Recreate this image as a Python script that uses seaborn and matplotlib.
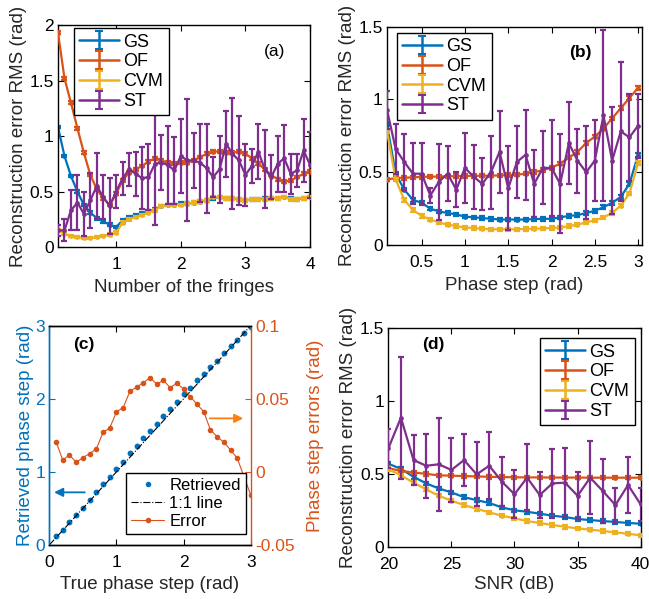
import numpy as np
import matplotlib
matplotlib.use("Agg")
import matplotlib.pyplot as plt
import seaborn as sns
from matplotlib.lines import Line2D

sns.set_theme(style="ticks")
plt.rcParams['font.family'] = ['Liberation Sans', 'DejaVu Sans']
plt.rcParams.update({
    'xtick.direction': 'in', 'ytick.direction': 'in',
    'xtick.top': True, 'ytick.right': True,
    'xtick.bottom': True, 'ytick.left': True,
    'xtick.major.size': 4, 'ytick.major.size': 4,
    'xtick.major.width': 0.8, 'ytick.major.width': 0.8,
    'axes.edgecolor': 'black', 'axes.linewidth': 1.0,
    'xtick.labelsize': 12.5, 'ytick.labelsize': 12.5, 'axes.labelsize': 13.5,
    'xtick.color': 'black', 'ytick.color': 'black',
    'axes.labelcolor': '#262626', 'text.color': 'black',
    'xtick.major.pad': 7.5, 'ytick.major.pad': 3,
    'axes.labelpad': 4,
})

C_GS = '#0072BD'
C_OF = '#D95319'
C_CVM = '#EDB120'
C_ST = '#7E2F8E'

methods = ['GS', 'OF', 'CVM', 'ST']

# ---------------- Panel (a): number of fringes ----------------
fringes = [0.1, 0.2, 0.3, 0.4, 0.5, 0.6, 0.7, 0.8, 0.9, 1.0,
           1.1, 1.2, 1.3, 1.4, 1.5, 1.6, 1.7, 1.8, 1.9, 2.0,
           2.1, 2.2, 2.3, 2.4, 2.5, 2.6, 2.7, 2.8, 2.9, 3.0,
           3.1, 3.2, 3.3, 3.4, 3.5, 3.6, 3.7, 3.8, 3.9, 4.0]
gs_a = [1.08, 0.82, 0.64, 0.50, 0.38, 0.31, 0.26, 0.23, 0.20, 0.18,
        0.24, 0.27, 0.29, 0.30, 0.32, 0.34, 0.37, 0.38, 0.38, 0.39,
        0.39, 0.40, 0.41, 0.42, 0.44, 0.45, 0.44, 0.44, 0.43, 0.42,
        0.43, 0.43, 0.44, 0.44, 0.44, 0.45, 0.44, 0.43, 0.44, 0.45]
of_a = [1.93, 1.52, 1.30, 1.07, 0.85, 0.65, 0.52, 0.44, 0.38, 0.48,
        0.60, 0.67, 0.70, 0.73, 0.77, 0.80, 0.78, 0.76, 0.75, 0.76,
        0.76, 0.78, 0.81, 0.84, 0.86, 0.86, 0.85, 0.85, 0.86, 0.84,
        0.80, 0.75, 0.70, 0.65, 0.61, 0.59, 0.60, 0.63, 0.66, 0.68]
cvm_a = [0.15, 0.12, 0.10, 0.09, 0.08, 0.08, 0.09, 0.10, 0.11, 0.13,
         0.22, 0.25, 0.27, 0.29, 0.31, 0.33, 0.37, 0.38, 0.38, 0.38,
         0.39, 0.40, 0.41, 0.42, 0.45, 0.45, 0.44, 0.44, 0.43, 0.42,
         0.43, 0.43, 0.43, 0.44, 0.44, 0.45, 0.43, 0.43, 0.44, 0.45]
st_a = [0.15, 0.15, 0.33, 0.40, 0.30, 0.42, 0.55, 0.45, 0.37, 0.50,
        0.62, 0.70, 0.66, 0.62, 0.63, 0.75, 0.76, 0.74, 0.69, 0.82,
        0.78, 0.78, 0.76, 0.71, 0.63, 0.70, 0.93, 0.84, 0.78, 0.65,
        0.73, 0.86, 0.70, 0.63, 0.75, 0.80, 0.66, 0.69, 0.87, 0.74]
st_a_err = [0.05, 0.10, 0.18, 0.25, 0.20, 0.25, 0.30, 0.20, 0.25, 0.15,
            0.15, 0.15, 0.20, 0.28, 0.30, 0.55, 0.25, 0.35, 0.30, 0.33,
            0.55, 0.25, 0.35, 0.40, 0.18, 0.30, 0.30, 0.50, 0.40, 0.28,
            0.15, 0.25, 0.35, 0.20, 0.25, 0.30, 0.18, 0.15, 0.28, 0.30]

# ---------------- Panel (b): phase step ----------------
phase = [0.1, 0.2, 0.3, 0.4, 0.5, 0.6, 0.7, 0.8, 0.9, 1.0,
         1.1, 1.2, 1.3, 1.4, 1.5, 1.6, 1.7, 1.8, 1.9, 2.0,
         2.1, 2.2, 2.3, 2.4, 2.5, 2.6, 2.7, 2.8, 2.9, 3.0]
gs_b = [0.83, 0.49, 0.38, 0.31, 0.29, 0.25, 0.23, 0.22, 0.21, 0.195,
        0.19, 0.185, 0.18, 0.175, 0.175, 0.175, 0.175, 0.178, 0.18, 0.18,
        0.19, 0.20, 0.205, 0.22, 0.235, 0.26, 0.29, 0.33, 0.42, 0.62]
of_b = [0.45, 0.46, 0.462, 0.465, 0.468, 0.47, 0.47, 0.472, 0.473, 0.475,
        0.475, 0.476, 0.477, 0.478, 0.48, 0.483, 0.49, 0.50, 0.515, 0.53,
        0.56, 0.60, 0.64, 0.70, 0.745, 0.80, 0.87, 0.94, 1.01, 1.08]
cvm_b = [0.78, 0.45, 0.31, 0.24, 0.20, 0.175, 0.155, 0.14, 0.13, 0.12,
         0.117, 0.112, 0.108, 0.108, 0.108, 0.108, 0.11, 0.112, 0.114, 0.117,
         0.12, 0.13, 0.14, 0.155, 0.17, 0.19, 0.22, 0.27, 0.355, 0.565]
st_b = [0.93, 0.66, 0.57, 0.49, 0.49, 0.34, 0.435, 0.49, 0.38, 0.53,
        0.47, 0.42, 0.50, 0.64, 0.39, 0.57, 0.62, 0.42, 0.53, 0.53,
        0.42, 0.70, 0.58, 0.50, 0.58, 0.89, 0.58, 0.78, 0.74, 0.82]
st_b_err = [0.13, 0.17, 0.19, 0.21, 0.21, 0.05, 0.26, 0.19, 0.12, 0.24,
            0.22, 0.18, 0.25, 0.28, 0.29, 0.25, 0.31, 0.23, 0.25, 0.33,
            0.34, 0.28, 0.22, 0.32, 0.28, 0.59, 0.37, 0.48, 0.30, 0.22]

# ---------------- Panel (c): retrieved phase step ----------------
true_step = [0.1, 0.2, 0.3, 0.4, 0.5, 0.6, 0.7, 0.8, 0.9, 1.0,
             1.1, 1.2, 1.3, 1.4, 1.5, 1.6, 1.7, 1.8, 1.9, 2.0,
             2.1, 2.2, 2.3, 2.4, 2.5, 2.6, 2.7, 2.8, 2.9, 3.0]
retrieved = [0.12, 0.21, 0.31, 0.41, 0.51, 0.61, 0.72, 0.83, 0.93, 1.04,
             1.14, 1.26, 1.36, 1.46, 1.56, 1.66, 1.76, 1.86, 1.96, 2.06,
             2.15, 2.25, 2.34, 2.43, 2.52, 2.62, 2.72, 2.81, 2.90, 2.98]
step_error = [0.0207, 0.0081, 0.0116, 0.0065, 0.0097, 0.0125, 0.0157, 0.027, 0.030, 0.041,
              0.044, 0.055, 0.058, 0.061, 0.0645, 0.060, 0.0626, 0.0576, 0.0606, 0.0567,
              0.0515, 0.0462, 0.0412, 0.0287, 0.0241, 0.0202, 0.015, 0.0093, -0.0033, -0.0158]
line_x = [0, 3]
line_y = [0, 3]

# ---------------- Panel (d): SNR ----------------
snr = [20, 21, 22, 23, 24, 25, 26, 27, 28, 29, 30,
       31, 32, 33, 34, 35, 36, 37, 38, 39, 40]
gs_d = [0.57, 0.535, 0.48, 0.435, 0.40, 0.373, 0.34, 0.32, 0.30, 0.27, 0.25,
        0.24, 0.227, 0.213, 0.204, 0.19, 0.183, 0.176, 0.17, 0.163, 0.158]
of_d = [0.54, 0.52, 0.51, 0.50, 0.49, 0.488, 0.485, 0.483, 0.48, 0.478, 0.477,
        0.476, 0.476, 0.475, 0.475, 0.475, 0.474, 0.474, 0.474, 0.474, 0.474]
cvm_d = [0.533, 0.49, 0.44, 0.394, 0.35, 0.316, 0.286, 0.26, 0.236, 0.213, 0.195,
         0.176, 0.163, 0.149, 0.137, 0.126, 0.117, 0.108, 0.098, 0.089, 0.078]
st_d = [0.675, 0.886, 0.595, 0.556, 0.566, 0.527, 0.595, 0.497, 0.556, 0.447, 0.36,
        0.474, 0.355, 0.435, 0.44, 0.35, 0.474, 0.382, 0.286, 0.424, 0.29]
st_d_err = [0.135, 0.42, 0.17, 0.22, 0.32, 0.22, 0.18, 0.22, 0.23, 0.17, 0.165,
            0.23, 0.16, 0.235, 0.235, 0.16, 0.25, 0.22, 0.12, 0.19, 0.115]

small_err = 0.012  # tiny error bars of GS/OF/CVM

fig = plt.figure(figsize=(6.49, 5.99), dpi=100)
ax_a = fig.add_axes([0.0894, 0.5876, 0.3883, 0.3706])
ax_b = fig.add_axes([0.5963, 0.5910, 0.3929, 0.3644])
ax_c = fig.add_axes([0.0760, 0.0902, 0.3103, 0.3661])
ax_d = fig.add_axes([0.5983, 0.0873, 0.3889, 0.3646])


def draw(ax, x, y, err, color, lw=1.6, ms=3.4, z=2):
    sns.lineplot(x=x, y=y, ax=ax, color=color, linewidth=lw, marker='o',
                 markersize=ms, markeredgewidth=0, legend=False, zorder=z,
                 errorbar=None)
    ax.errorbar(x, y, yerr=err, fmt='none', ecolor=color, elinewidth=lw,
                capsize=2.5, capthick=lw, zorder=z)


def eb_legend(ax, loc, anchor):
    handles = []
    for name, col in zip(methods, [C_GS, C_OF, C_CVM, C_ST]):
        h = ax.errorbar([np.nan], [np.nan], yerr=[np.nan], color=col, lw=1.8,
                        capsize=3, capthick=1.5, label=name)
        handles.append(h)
    leg = ax.legend(handles=handles, loc=loc, bbox_to_anchor=anchor,
                    borderaxespad=0, fancybox=False, edgecolor='black',
                    framealpha=1, fontsize=13, handlelength=2.2,
                    labelspacing=0.15, handletextpad=0.25, borderpad=0.3)
    leg.get_frame().set_linewidth(1.0)


def errpanel(ax, x, gs, of, cvm, st, st_err):
    draw(ax, x, gs, small_err, C_GS, z=2)
    draw(ax, x, of, small_err, C_OF, z=3)
    draw(ax, x, cvm, small_err, C_CVM, z=4)
    draw(ax, x, st, st_err, C_ST, z=5)
    ax.set_ylabel('Reconstruction error RMS (rad)', labelpad=2)


# (a)
errpanel(ax_a, fringes, gs_a, of_a, cvm_a, st_a, st_a_err)
ax_a.set_xlim(0.1, 4)
ax_a.set_ylim(0, 2)
ax_a.set_xticks([1, 2, 3, 4])
ax_a.set_xticklabels(['1', '2', '3', '4'])
ax_a.set_yticks([0, 0.5, 1, 1.5, 2])
ax_a.set_yticklabels(['0', '0.5', '1', '1.5', '2'])
ax_a.set_xlabel('Number of the fringes', labelpad=5)
ax_a.text(3.45, 1.76, '(a)', fontsize=12.5, ha='center', va='center')
eb_legend(ax_a, 'upper left', (0.063, 0.985))

# (b)
errpanel(ax_b, phase, gs_b, of_b, cvm_b, st_b, st_b_err)
ax_b.set_xlim(0.1, 3.045)
ax_b.set_ylim(0, 1.5)
ax_b.set_xticks([0.5, 1, 1.5, 2, 2.5, 3])
ax_b.set_xticklabels(['0.5', '1', '1.5', '2', '2.5', '3'])
ax_b.set_yticks([0, 0.5, 1, 1.5])
ax_b.set_yticklabels(['0', '0.5', '1', '1.5'])
ax_b.set_xlabel('Phase step (rad)', labelpad=5)
ax_b.text(2.33, 1.32, '(b)', fontsize=12.5, fontweight='bold', ha='center', va='center')
eb_legend(ax_b, 'upper left', (0.039, 0.972))

# (d)
errpanel(ax_d, snr, gs_d, of_d, cvm_d, st_d, st_d_err)
ax_d.set_xlim(20, 40)
ax_d.set_ylim(0, 1.5)
ax_d.set_xticks([20, 25, 30, 35, 40])
ax_d.set_yticks([0, 0.5, 1, 1.5])
ax_d.set_yticklabels(['0', '0.5', '1', '1.5'])
ax_d.set_xlabel('SNR (dB)', labelpad=3)
ax_d.text(23.57, 1.386, '(d)', fontsize=12.5, fontweight='bold', ha='center', va='center')
eb_legend(ax_d, 'upper right', (0.977, 0.954))

# (c)
tw = ax_c.twinx()
sns.scatterplot(x=true_step, y=retrieved, ax=ax_c, color=C_GS, s=18,
                linewidth=0, zorder=3, legend=False)
sns.lineplot(x=line_x, y=line_y, ax=ax_c, color='black', linewidth=0.8,
             linestyle='-.', zorder=4, legend=False)
sns.lineplot(x=true_step, y=step_error, ax=tw, color=C_OF, linewidth=0.8,
             marker='o', markersize=4, markeredgewidth=0, legend=False)
ax_c.set_xlim(0, 3)
ax_c.set_ylim(0, 3)
tw.set_ylim(-0.05, 0.1)
ax_c.set_xticks([0, 1, 2, 3])
ax_c.set_yticks([0, 1, 2, 3])
tw.set_yticks([-0.05, 0, 0.05, 0.1])
tw.set_yticklabels(['-0.05', '0', '0.05', '0.1'])
ax_c.tick_params(axis='y', left=True, right=False, colors=C_GS)
tw.tick_params(axis='y', left=False, right=True, colors=C_OF)
ax_c.spines['left'].set_color(C_GS)
ax_c.spines['right'].set_visible(False)
tw.spines['left'].set_color(C_GS)
tw.spines['right'].set_color(C_OF)
ax_c.set_xlabel('True phase step (rad)', labelpad=4)
ax_c.set_ylabel('Retrieved phase step (rad)', color=C_GS, labelpad=1)
tw.set_ylabel('Phase step errors (rad)', color=C_OF, labelpad=9)
ax_c.text(0.51, 2.74, '(c)', fontsize=12.5, fontweight='bold', ha='center', va='center')
ax_c.annotate('', xy=(0.03, 0.72), xytext=(0.57, 0.72),
              arrowprops=dict(arrowstyle='-|>', color=C_GS, lw=1.3, mutation_scale=13))
tw.annotate('', xy=(2.93, 0.0366), xytext=(2.35, 0.0366),
            arrowprops=dict(arrowstyle='-|>', color='#FF7F0E', lw=1.3, mutation_scale=13))
hc = [Line2D([], [], color=C_GS, marker='o', linestyle='none', markersize=4, markeredgewidth=0),
      Line2D([], [], color='black', linestyle='-.', linewidth=0.8),
      Line2D([], [], color=C_OF, marker='o', linewidth=0.8, markersize=4, markeredgewidth=0)]
legc = tw.legend(hc, ['Retrieved', '1:1 line', 'Error'], loc='lower left',
                 bbox_to_anchor=(0.381, 0.049), borderaxespad=0, fancybox=False,
                 edgecolor='black', framealpha=1, fontsize=12, handlelength=2.0,
                 labelspacing=0.2, handletextpad=0.3, borderpad=0.3)
legc.get_frame().set_linewidth(1.0)

fig.savefig('out.png', dpi=100)
